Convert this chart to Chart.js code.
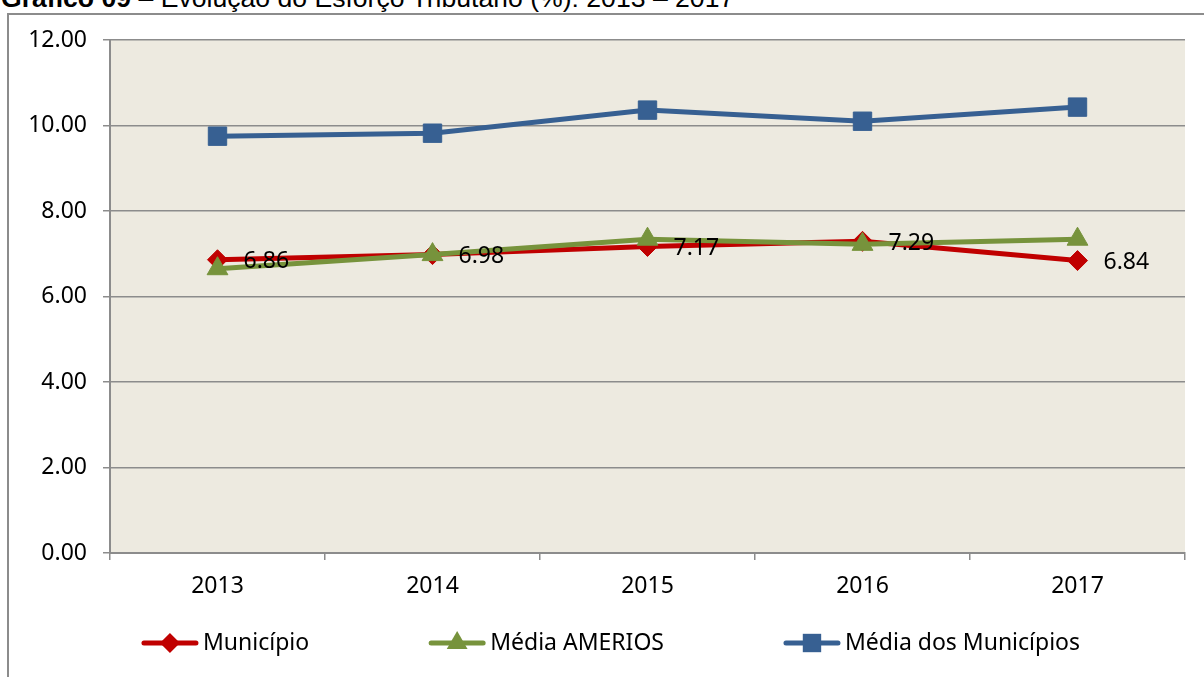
<!DOCTYPE html>
<html>
<head>
<meta charset="utf-8">
<script src="https://cdn.jsdelivr.net/npm/chart.js@4.4.0/dist/chart.umd.min.js"></script>
<style>
html,body{margin:0;padding:0;background:#fff;overflow:hidden}
#wrap{position:relative;width:1204px;height:677px}
#title{position:absolute;left:1px;top:-15px;font:26.6px "Liberation Sans",Arial,sans-serif;line-height:26px;white-space:nowrap;color:#000}
#frame{position:absolute;left:7px;top:13px;width:1230px;height:700px;border:2px solid #8c8c8c;box-sizing:border-box}
canvas{position:absolute;left:0;top:0}
</style>
</head>
<body>
<div id="wrap">
  <div id="title"><b>Gráfico 09</b> – Evolução do Esforço Tributário (%): 2013 – 2017</div>
  <div id="frame"></div>
  <canvas id="myChart" width="1204" height="677"></canvas>
</div>
<script>
// dados
var anos = ['2013', '2014', '2015', '2016', '2017'];
var municipio = [6.86, 6.98, 7.17, 7.29, 6.84];
var mediaAmerios = [6.65, 6.98, 7.34, 7.22, 7.34];
var mediaMunicipios = [9.75, 9.82, 10.36, 10.10, 10.43];
var nomes = ['Município', 'Média AMERIOS', 'Média dos Municípios'];

var fonte = '"Noto Sans", "Open Sans", sans-serif';
var tam = 23;

function marca(ctx, tipo, x, y, r, cor){
    ctx.fillStyle = cor;
    ctx.beginPath();
    if(tipo == 'rectRot'){
        ctx.moveTo(x, y - r); ctx.lineTo(x + r, y); ctx.lineTo(x, y + r); ctx.lineTo(x - r, y);
    }else if(tipo == 'triangle'){
        ctx.moveTo(x, y - r); ctx.lineTo(x + r * 0.866, y + r / 2); ctx.lineTo(x - r * 0.866, y + r / 2);
    }else{
        var s = r * Math.SQRT1_2;
        ctx.rect(x - s, y - s, 2 * s, 2 * s);
    }
    ctx.closePath();
    ctx.fill();
}

// fundo da area do grafico
var fundo = {
    id: 'fundo',
    beforeDraw: function(chart){
        var a = chart.chartArea;
        chart.ctx.save();
        chart.ctx.fillStyle = '#EDEAE0';
        chart.ctx.fillRect(a.left, a.top, a.right - a.left, a.bottom - a.top);
        chart.ctx.restore();
    }
};

// rotulos da serie Municipio
var rotulos = {
    id: 'rotulos',
    afterDatasetsDraw: function(chart){
        var ctx = chart.ctx;
        var meta = chart.getDatasetMeta(0);
        ctx.save();
        ctx.font = tam + 'px ' + fonte;
        ctx.fillStyle = '#000';
        ctx.textAlign = 'left';
        ctx.textBaseline = 'middle';
        meta.data.forEach(function(pt, i){
            ctx.fillText(municipio[i].toFixed(2), pt.x + 26, pt.y + 2);
        });
        ctx.restore();
    }
};

// legenda com linha + marcador
var legenda = {
    id: 'legenda',
    afterDraw: function(chart){
        var ctx = chart.ctx;
        var ds = chart.data.datasets;
        ctx.save();
        ctx.font = tam + 'px ' + fonte;
        var amostra = 56, gap = 5, entre = 120;
        var total = 0;
        ds.forEach(function(d, i){
            total += amostra + gap + ctx.measureText(d.label).width;
            if(i < ds.length - 1) total += entre;
        });
        var x = (chart.width - total) / 2 + 9;
        var y = 643;
        ds.forEach(function(d){
            ctx.strokeStyle = d.borderColor;
            ctx.lineWidth = d.borderWidth;
            ctx.lineCap = 'round';
            ctx.beginPath();
            ctx.moveTo(x + 2, y); ctx.lineTo(x + amostra - 2, y);
            ctx.stroke();
            marca(ctx, d.pointStyle, x + amostra / 2, y, d.pointRadius, d.borderColor);
            ctx.fillStyle = '#000';
            ctx.textAlign = 'left';
            ctx.textBaseline = 'middle';
            ctx.fillText(d.label, x + amostra + gap, y);
            x += amostra + gap + ctx.measureText(d.label).width + entre;
        });
        ctx.restore();
    }
};

var ctx = document.getElementById('myChart').getContext('2d');
var myChart = new Chart(ctx, {
    type: 'line',
    data: {
        labels: anos,
        datasets: [{
            label: nomes[0],
            data: municipio,
            borderColor: '#C00000',
            backgroundColor: '#C00000',
            borderWidth: 5,
            pointStyle: 'rectRot',
            pointRadius: 10,
            pointBorderWidth: 1,
            order: 3
        }, {
            label: nomes[1],
            data: mediaAmerios,
            borderColor: '#77933C',
            backgroundColor: '#77933C',
            borderWidth: 5,
            pointStyle: 'triangle',
            pointRadius: 12,
            pointBorderWidth: 1,
            order: 2
        }, {
            label: nomes[2],
            data: mediaMunicipios,
            borderColor: '#376092',
            backgroundColor: '#376092',
            borderWidth: 5,
            pointStyle: 'rect',
            pointRadius: 13,
            pointBorderWidth: 1,
            order: 1
        }]
    },
    options: {
        responsive: false,
        animation: false,
        layout: { padding: { top: 40, right: 19, left: 0, bottom: 0 } },
        plugins: { legend: { display: false }, tooltip: { enabled: false } },
        scales: {
            x: {
                offset: true,
                grid: { offset: true, drawOnChartArea: false, tickLength: 7, color: '#8c8c8c', lineWidth: 1.5 },
                border: { color: '#8c8c8c', width: 2 },
                ticks: { color: '#000', font: { family: fonte, size: tam }, padding: 13 },
                afterFit: function(s){ s.height = 124; }
            },
            y: {
                min: 0,
                max: 12,
                ticks: {
                    stepSize: 2,
                    color: '#000',
                    font: { family: fonte, size: tam },
                    padding: 16,
                    callback: function(v){ return v.toFixed(2); }
                },
                grid: { color: '#8c8c8c', lineWidth: 1.5, tickLength: 7 },
                border: { color: '#8c8c8c', width: 2 },
                afterFit: function(s){ s.width = 110; }
            }
        }
    },
    plugins: [fundo, rotulos, legenda]
});
</script>
</body>
</html>
